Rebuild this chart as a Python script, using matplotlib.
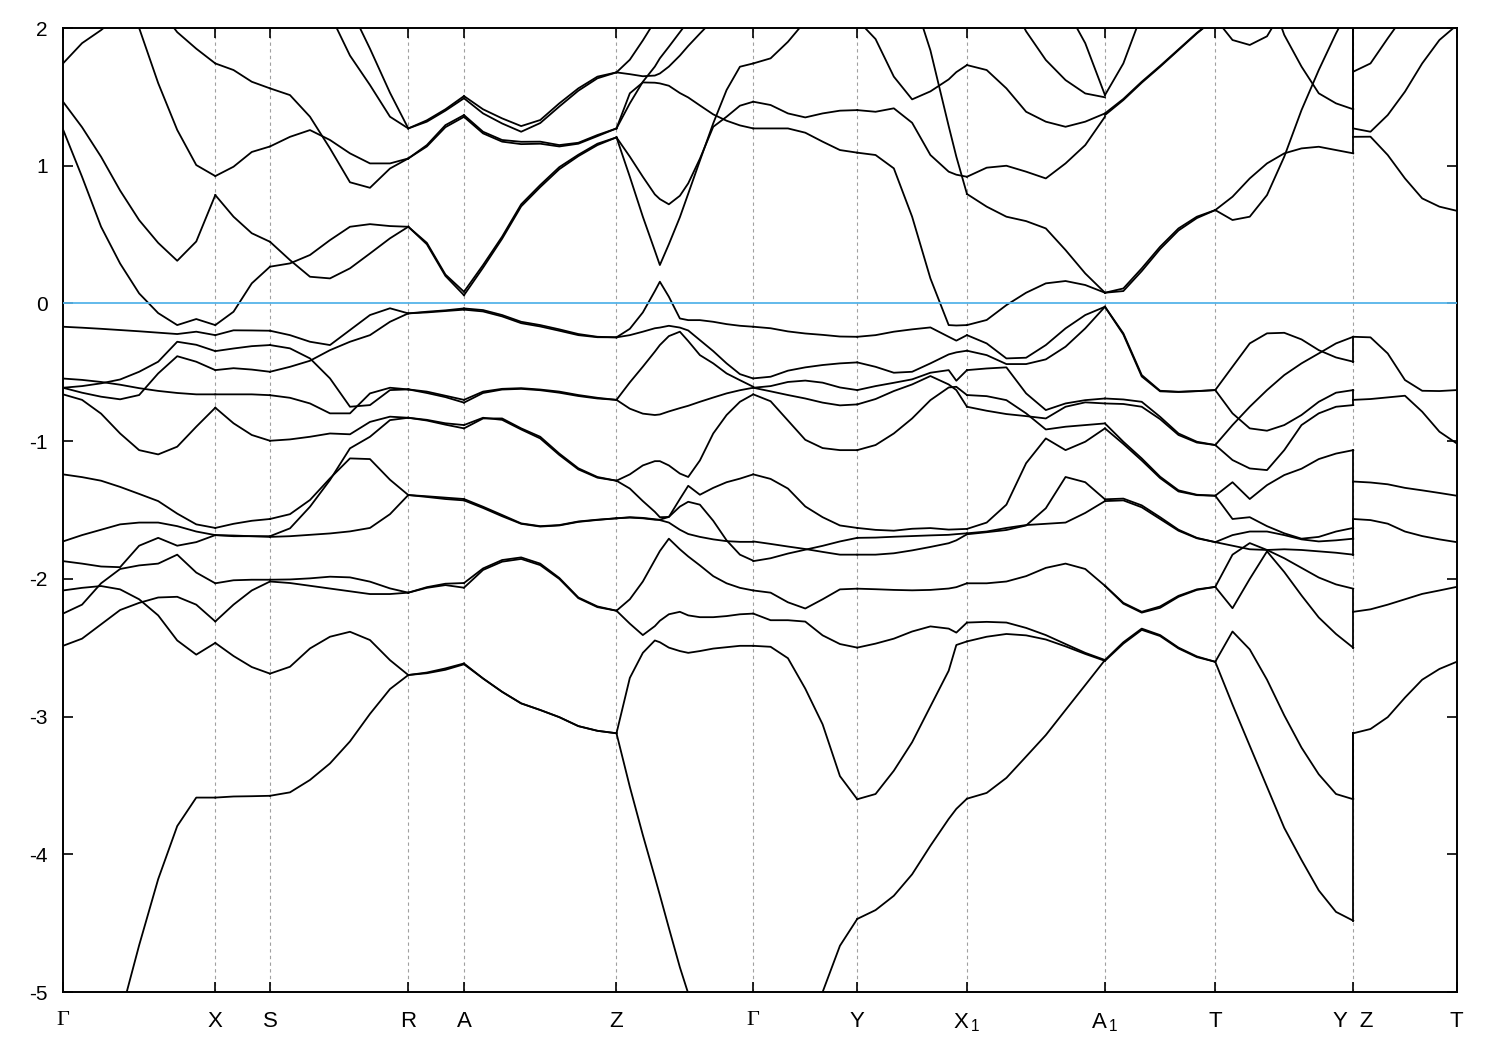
import numpy as np
import matplotlib
matplotlib.use("Agg")
import matplotlib.pyplot as plt

plt.rcParams["font.family"] = ["Liberation Sans", "DejaVu Sans"]
plt.rcParams["axes.unicode_minus"] = False
plt.rcParams["mathtext.fontset"] = "custom"
plt.rcParams["mathtext.rm"] = "Liberation Sans"
plt.rcParams["mathtext.it"] = "Liberation Sans"

# high symmetry points along the k path
kpoint_labels = ["Γ", "X", "S", "R", "A", "Z", "Γ", "Y",
                 r"$\mathrm{X}_{\,\mathrm{1}}$", r"$\mathrm{A}_{\,\mathrm{1}}$",
                 "T", "Y  Z", "T"]
kpoint_pos = [0.0, 1.523, 2.07, 3.453, 4.01, 5.535, 6.903, 7.943,
              9.04, 10.42, 11.523, 12.903, 13.937]

##################################################
# energies (eV) read along each segment, one list per visible line

frac_GX = np.linspace(0, 1, 9)
bands_GX = [
    [1.743, 1.89, 1.985, 2.1, 2.2, 2.15, 1.97, 1.85, 1.743],
    [3.0, 2.8, 2.6, 2.4, 2.0, 1.60, 1.26, 1.005, 0.925],
    [1.465, 1.28, 1.065, 0.82, 0.605, 0.44, 0.31, 0.45, 0.787],
    [1.264, 0.92, 0.557, 0.29, 0.073, -0.07, -0.157, -0.113, -0.157],
    [-0.169, -0.176, -0.184, -0.193, -0.202, -0.212, -0.222, -0.205, -0.23],
    [-0.612, -0.60, -0.58, -0.552, -0.496, -0.423, -0.278, -0.30, -0.346],
    [-0.545, -0.555, -0.57, -0.59, -0.615, -0.635, -0.65, -0.66, -0.66],
    [-0.612, -0.648, -0.677, -0.696, -0.665, -0.508, -0.383, -0.423, -0.484],
    [-0.66, -0.70, -0.80, -0.944, -1.065, -1.096, -1.04, -0.895, -0.757],
    [-1.241, -1.261, -1.287, -1.332, -1.383, -1.435, -1.526, -1.604, -1.63],
    [-1.728, -1.682, -1.643, -1.604, -1.591, -1.591, -1.617, -1.656, -1.682],
    [-1.871, -1.889, -1.91, -1.915, -1.759, -1.702, -1.759, -1.733, -1.682],
    [-2.252, -2.187, -2.032, -1.928, -1.902, -1.889, -1.824, -1.954, -2.032],
    [-2.486, -2.434, -2.33, -2.226, -2.174, -2.135, -2.13, -2.187, -2.309],
    [-2.084, -2.065, -2.052, -2.076, -2.148, -2.265, -2.447, -2.55, -2.465],
    [-6.7, -6.2, -5.7, -5.18, -4.66, -4.18, -3.795, -3.588, -3.588],
]

frac_XS = np.linspace(0, 1, 4)
bands_XS = [
    [1.743, 1.695, 1.61, 1.562],
    [0.925, 0.993, 1.10, 1.14],
    [0.787, 0.63, 0.51, 0.448],
    [-0.157, -0.06, 0.146, 0.267],
    [-0.23, -0.195, -0.196, -0.198],
    [-0.346, -0.327, -0.31, -0.302],
    [-0.484, -0.47, -0.48, -0.496],
    [-0.66, -0.66, -0.66, -0.666],
    [-0.757, -0.87, -0.955, -0.997],
    [-1.63, -1.60, -1.578, -1.565],
    [-1.682, -1.69, -1.69, -1.69],
    [-1.682, -1.685, -1.69, -1.695],
    [-2.032, -2.01, -2.006, -2.006],
    [-2.309, -2.187, -2.084, -2.019],
    [-2.465, -2.56, -2.64, -2.688],
    [-3.588, -3.58, -3.578, -3.575],
]

frac_SR = [0, 0.1446, 0.2892, 0.4338, 0.5784, 0.723, 0.8677, 1]
bands_SR = [
    [1.562, 1.513, 1.356, 1.126, 0.88, 0.84, 0.98, 1.053],
    [1.14, 1.21, 1.259, 1.187, 1.09, 1.017, 1.017, 1.053],
    [3.0, 2.7, 2.4, 2.1, 1.80, 1.586, 1.356, 1.271],
    [3.3, 3.0, 2.7, 2.45, 2.15, 1.85, 1.53, 1.271],
    [0.448, 0.315, 0.194, 0.182, 0.255, 0.363, 0.473, 0.557],
    [0.267, 0.291, 0.352, 0.46, 0.557, 0.576, 0.562, 0.557],
    [-0.198, -0.23, -0.278, -0.302, -0.193, -0.084, -0.035, -0.072],
    [-0.496, -0.46, -0.416, -0.339, -0.278, -0.23, -0.133, -0.072],
    [-0.302, -0.326, -0.399, -0.544, -0.75, -0.738, -0.629, -0.624],
    [-0.666, -0.685, -0.726, -0.798, -0.798, -0.653, -0.612, -0.624],
    [-0.997, -0.987, -0.968, -0.944, -0.95, -0.86, -0.822, -0.83],
    [-1.69, -1.633, -1.476, -1.282, -1.052, -0.968, -0.847, -0.83],
    [-1.565, -1.53, -1.427, -1.27, -1.125, -1.13, -1.28, -1.391],
    [-1.695, -1.69, -1.68, -1.67, -1.655, -1.63, -1.53, -1.391],
    [-2.006, -2.004, -1.996, -1.984, -1.989, -2.02, -2.069, -2.1],
    [-2.019, -2.03, -2.05, -2.07, -2.09, -2.11, -2.11, -2.1],
    [-2.688, -2.638, -2.505, -2.42, -2.384, -2.444, -2.59, -2.698],
    [-3.575, -3.55, -3.46, -3.34, -3.18, -2.98, -2.80, -2.698],
]

frac_RA = np.linspace(0, 1, 4)
bands_RA = [
    [1.271, 1.33, 1.41, 1.506],
    [1.271, 1.32, 1.40, 1.49],
    [1.053, 1.15, 1.295, 1.368],
    [1.053, 1.14, 1.28, 1.355],
    [0.557, 0.44, 0.21, 0.085],
    [0.557, 0.43, 0.20, 0.06],
    [-0.072, -0.06, -0.05, -0.036],
    [-0.072, -0.065, -0.055, -0.045],
    [-0.624, -0.64, -0.67, -0.70],
    [-0.624, -0.65, -0.68, -0.72],
    [-0.83, -0.85, -0.88, -0.907],
    [-0.83, -0.845, -0.87, -0.883],
    [-1.391, -1.40, -1.41, -1.42],
    [-1.391, -1.405, -1.42, -1.43],
    [-2.1, -2.06, -2.035, -2.03],
    [-2.1, -2.065, -2.045, -2.064],
    [-2.698, -2.68, -2.65, -2.614],
    [-2.698, -2.685, -2.66, -2.62],
]

frac_AZ = np.linspace(0, 1, 9)
bands_AZ = [
    [1.506, 1.41, 1.344, 1.288, 1.332, 1.453, 1.562, 1.647, 1.678],
    [1.49, 1.38, 1.307, 1.247, 1.31, 1.43, 1.545, 1.635, 1.678],
    [1.368, 1.247, 1.187, 1.174, 1.175, 1.15, 1.167, 1.223, 1.271],
    [1.355, 1.235, 1.175, 1.157, 1.16, 1.14, 1.16, 1.215, 1.271],
    [0.085, 0.279, 0.485, 0.72, 0.86, 0.99, 1.08, 1.16, 1.206],
    [0.06, 0.26, 0.47, 0.705, 0.845, 0.975, 1.07, 1.15, 1.206],
    [-0.036, -0.048, -0.084, -0.133, -0.157, -0.188, -0.222, -0.242, -0.246],
    [-0.045, -0.058, -0.094, -0.143, -0.167, -0.198, -0.23, -0.245, -0.246],
    [-0.70, -0.64, -0.62, -0.615, -0.625, -0.64, -0.665, -0.685, -0.70],
    [-0.72, -0.65, -0.625, -0.62, -0.63, -0.648, -0.672, -0.69, -0.70],
    [-0.907, -0.835, -0.835, -0.907, -0.968, -1.09, -1.197, -1.26, -1.287],
    [-0.883, -0.83, -0.845, -0.915, -0.98, -1.1, -1.205, -1.265, -1.287],
    [-1.42, -1.476, -1.536, -1.597, -1.617, -1.609, -1.583, -1.57, -1.56],
    [-1.43, -1.485, -1.545, -1.60, -1.62, -1.612, -1.586, -1.572, -1.56],
    [-2.03, -1.924, -1.863, -1.844, -1.889, -1.993, -2.135, -2.2, -2.231],
    [-2.064, -1.935, -1.875, -1.855, -1.9, -2.0, -2.14, -2.205, -2.231],
    [-2.614, -2.723, -2.82, -2.904, -2.952, -3.004, -3.069, -3.103, -3.121],
    [-2.62, -2.723, -2.82, -2.904, -2.952, -3.004, -3.069, -3.103, -3.121],
]

frac_ZG = [0, 0.0976, 0.1927, 0.2805, 0.3171, 0.3829, 0.4634, 0.5244,
           0.6098, 0.7073, 0.8049, 0.9024, 1]
bands_ZG = [
    [1.678, 1.77, 1.91, 2.05, 2.1, 2.2, 2.3, 2.4, 2.5, 2.6, 2.7, 2.8, 2.9],
    [1.678, 1.665, 1.65, 1.655, 1.67, 1.72, 1.80, 1.87, 1.96, 2.06, 2.2, 2.35, 2.5],
    [1.271, 1.526, 1.605, 1.603, 1.598, 1.581, 1.528, 1.496, 1.438, 1.373, 1.327, 1.293, 1.271],
    [1.271, 1.453, 1.61, 1.72, 1.78, 1.864, 1.97, 2.05, 2.15, 2.3, 2.45, 2.6, 2.75],
    [1.206, 0.92, 0.63, 0.383, 0.279, 0.43, 0.626, 0.797, 1.037, 1.308, 1.55, 1.719, 1.743],
    [1.206, 1.066, 0.92, 0.792, 0.758, 0.72, 0.782, 0.872, 1.051, 1.283, 1.356, 1.436, 1.465],
    [-0.246, -0.184, -0.065, 0.09, 0.158, 0.049, -0.109, -0.121, -0.121, -0.133, -0.15, -0.162, -0.169],
    [-0.246, -0.23, -0.205, -0.18, -0.175, -0.162, -0.175, -0.196, -0.266, -0.346, -0.435, -0.513, -0.545],
    [-0.70, -0.573, -0.459, -0.35, -0.302, -0.237, -0.205, -0.273, -0.375, -0.435, -0.508, -0.557, -0.605],
    [-0.70, -0.764, -0.80, -0.81, -0.806, -0.784, -0.76, -0.743, -0.714, -0.683, -0.653, -0.63, -0.612],
    [-1.287, -1.241, -1.176, -1.145, -1.145, -1.176, -1.235, -1.26, -1.14, -0.944, -0.81, -0.714, -0.66],
    [-1.287, -1.344, -1.435, -1.513, -1.552, -1.55, -1.42, -1.324, -1.389, -1.339, -1.298, -1.272, -1.241],
    [-1.56, -1.552, -1.557, -1.567, -1.573, -1.591, -1.643, -1.674, -1.695, -1.713, -1.726, -1.731, -1.731],
    [-1.56, -1.555, -1.56, -1.57, -1.57, -1.55, -1.475, -1.44, -1.461, -1.578, -1.72, -1.824, -1.868],
    [-2.231, -2.148, -2.019, -1.863, -1.798, -1.708, -1.785, -1.837, -1.902, -1.98, -2.032, -2.065, -2.084],
    [-2.231, -2.325, -2.408, -2.343, -2.304, -2.257, -2.239, -2.265, -2.278, -2.278, -2.27, -2.257, -2.252],
    [-3.121, -2.719, -2.537, -2.447, -2.46, -2.499, -2.524, -2.537, -2.524, -2.506, -2.496, -2.486, -2.486],
    [-3.121, -3.51, -3.86, -4.166, -4.296, -4.534, -4.82, -5.01, -5.3, -5.6, -5.9, -6.2, -6.5],
]

frac_GY = np.linspace(0, 1, 7)
bands_GY = [
    [1.743, 1.78, 1.9, 2.05, 2.2, 2.35, 2.5],
    [1.465, 1.441, 1.38, 1.351, 1.38, 1.4, 1.404],
    [1.271, 1.271, 1.271, 1.24, 1.175, 1.114, 1.095],
    [-0.169, -0.18, -0.203, -0.218, -0.228, -0.24, -0.242],
    [-0.544, -0.532, -0.488, -0.464, -0.447, -0.435, -0.428],
    [-0.612, -0.6, -0.57, -0.56, -0.575, -0.61, -0.629],
    [-0.612, -0.638, -0.665, -0.69, -0.72, -0.74, -0.733],
    [-0.66, -0.71, -0.85, -0.99, -1.05, -1.065, -1.065],
    [-1.241, -1.274, -1.344, -1.474, -1.552, -1.612, -1.63],
    [-1.728, -1.746, -1.765, -1.783, -1.804, -1.824, -1.824],
    [-1.871, -1.85, -1.816, -1.788, -1.76, -1.728, -1.702],
    [-2.084, -2.1, -2.17, -2.215, -2.148, -2.076, -2.071],
    [-2.252, -2.3, -2.3, -2.31, -2.41, -2.473, -2.499],
    [-2.486, -2.493, -2.576, -2.797, -3.056, -3.432, -3.6],
    [-6.5, -6.2, -5.8, -5.4, -5.0, -4.664, -4.469],
]

frac_YX = [0, 0.1667, 0.3333, 0.5, 0.6667, 0.8333, 0.903, 1]
bands_YX = [
    [2.06, 1.92, 1.647, 1.482, 1.54, 1.627, 1.68, 1.731],
    [3.0, 2.8, 2.6, 2.25, 1.838, 1.288, 1.066, 0.795],
    [1.404, 1.392, 1.417, 1.312, 1.078, 0.957, 0.935, 0.92],
    [1.095, 1.078, 0.981, 0.63, 0.182, -0.157, -0.16, -0.157],
    [-0.242, -0.23, -0.205, -0.188, -0.174, -0.242, -0.27, -0.23],
    [-0.428, -0.46, -0.503, -0.496, -0.435, -0.37, -0.355, -0.343],
    [-0.629, -0.6, -0.576, -0.551, -0.503, -0.484, -0.561, -0.484],
    [-0.733, -0.694, -0.636, -0.588, -0.527, -0.588, -0.629, -0.75],
    [-1.065, -1.028, -0.944, -0.835, -0.702, -0.61, -0.605, -0.665],
    [-1.63, -1.644, -1.65, -1.636, -1.631, -1.642, -1.64, -1.637],
    [-1.824, -1.824, -1.814, -1.793, -1.768, -1.741, -1.72, -1.676],
    [-1.702, -1.70, -1.694, -1.689, -1.684, -1.68, -1.675, -1.669],
    [-2.071, -2.075, -2.08, -2.083, -2.08, -2.07, -2.06, -2.032],
    [-2.499, -2.47, -2.434, -2.382, -2.345, -2.361, -2.39, -2.317],
    [-3.6, -3.562, -3.393, -3.186, -2.926, -2.667, -2.48, -2.454],
    [-4.469, -4.405, -4.301, -4.145, -3.938, -3.743, -3.67, -3.596],
]

frac_XA = np.linspace(0, 1, 8)
bands_XA = [
    [1.731, 1.695, 1.562, 1.392, 1.32, 1.283, 1.32, 1.38],
    [2.6, 2.45, 2.25, 1.976, 1.768, 1.622, 1.525, 1.497],
    [3.2, 3.0, 2.8, 2.6, 2.4, 2.15, 1.89, 1.513],
    [0.92, 0.986, 1.0, 0.957, 0.908, 1.017, 1.15, 1.356],
    [0.795, 0.703, 0.63, 0.598, 0.545, 0.388, 0.218, 0.078],
    [-0.157, -0.12, -0.012, 0.078, 0.146, 0.163, 0.134, 0.078],
    [-0.23, -0.29, -0.399, -0.394, -0.302, -0.181, -0.084, -0.024],
    [-0.343, -0.375, -0.44, -0.44, -0.406, -0.314, -0.181, -0.024],
    [-0.484, -0.472, -0.464, -0.653, -0.774, -0.726, -0.702, -0.69],
    [-0.75, -0.779, -0.803, -0.818, -0.835, -0.75, -0.718, -0.726],
    [-0.665, -0.673, -0.702, -0.798, -0.915, -0.895, -0.883, -0.871],
    [-1.637, -1.591, -1.461, -1.16, -0.98, -1.065, -1.004, -0.907],
    [-1.676, -1.661, -1.645, -1.612, -1.487, -1.26, -1.298, -1.422],
    [-1.669, -1.656, -1.63, -1.609, -1.6, -1.591, -1.521, -1.435],
    [-2.032, -2.032, -2.019, -1.98, -1.92, -1.889, -1.928, -2.05],
    [-2.317, -2.312, -2.317, -2.356, -2.408, -2.473, -2.537, -2.589],
    [-2.454, -2.42, -2.40, -2.41, -2.44, -2.49, -2.545, -2.595],
    [-3.596, -3.554, -3.445, -3.29, -3.134, -2.952, -2.771, -2.589],
]

frac_AT = np.linspace(0, 1, 7)
bands_AT = [
    [1.513, 1.743, 2.1, 2.4, 2.7, 3.0, 3.2],
    [1.368, 1.477, 1.603, 1.719, 1.84, 1.961, 2.07],
    [1.38, 1.485, 1.61, 1.725, 1.845, 1.965, 2.07],
    [0.078, 0.109, 0.255, 0.412, 0.545, 0.63, 0.678],
    [0.078, 0.09, 0.235, 0.395, 0.53, 0.62, 0.678],
    [-0.024, -0.217, -0.52, -0.634, -0.641, -0.636, -0.629],
    [-0.024, -0.225, -0.53, -0.638, -0.643, -0.637, -0.629],
    [-0.69, -0.697, -0.714, -0.823, -0.944, -1.004, -1.028],
    [-0.726, -0.73, -0.75, -0.84, -0.955, -1.01, -1.028],
    [-0.871, -1.004, -1.125, -1.258, -1.357, -1.389, -1.396],
    [-0.907, -1.02, -1.14, -1.268, -1.365, -1.392, -1.396],
    [-1.422, -1.417, -1.466, -1.552, -1.643, -1.702, -1.733],
    [-1.435, -1.43, -1.48, -1.565, -1.65, -1.705, -1.733],
    [-2.05, -2.174, -2.239, -2.2, -2.123, -2.076, -2.058],
    [-2.05, -2.18, -2.245, -2.21, -2.13, -2.08, -2.058],
    [-2.589, -2.46, -2.361, -2.408, -2.499, -2.563, -2.602],
    [-2.595, -2.47, -2.37, -2.415, -2.505, -2.568, -2.602],
]

frac_TY = np.linspace(0, 1, 9)
bands_TY = [
    [2.07, 1.913, 1.877, 1.94, 2.15, 2.4, 2.6, 2.8, 3.0],
    [3.0, 2.8, 2.6, 2.3, 1.95, 1.72, 1.526, 1.453, 1.41],
    [0.678, 0.606, 0.63, 0.787, 1.066, 1.404, 1.695, 1.961, 2.2],
    [0.678, 0.775, 0.908, 1.017, 1.09, 1.126, 1.138, 1.114, 1.09],
    [-0.629, -0.459, -0.29, -0.217, -0.213, -0.261, -0.339, -0.392, -0.423],
    [-1.028, -0.883, -0.75, -0.629, -0.52, -0.435, -0.363, -0.29, -0.242],
    [-0.629, -0.798, -0.907, -0.924, -0.883, -0.81, -0.714, -0.648, -0.629],
    [-1.028, -1.137, -1.198, -1.21, -1.065, -0.883, -0.798, -0.75, -0.738],
    [-1.396, -1.298, -1.42, -1.319, -1.246, -1.2, -1.13, -1.09, -1.065],
    [-1.396, -1.565, -1.552, -1.617, -1.669, -1.708, -1.695, -1.656, -1.63],
    [-1.733, -1.682, -1.656, -1.656, -1.682, -1.713, -1.728, -1.72, -1.708],
    [-1.733, -1.759, -1.785, -1.79, -1.785, -1.79, -1.80, -1.81, -1.824],
    [-2.058, -1.824, -1.74, -1.79, -1.85, -1.92, -1.99, -2.04, -2.071],
    [-2.058, -2.213, -2.0, -1.8, -1.95, -2.12, -2.28, -2.4, -2.5],
    [-2.602, -2.382, -2.512, -2.732, -2.991, -3.225, -3.419, -3.562, -3.6],
    [-2.602, -2.913, -3.212, -3.51, -3.808, -4.041, -4.262, -4.418, -4.482],
]

# Z-T lines are doubly degenerate
frac_ZT = np.linspace(0, 1, 7)
zt_degeneracy = 2
bands_ZT = [
    [1.683, 1.743, 1.925, 2.1, 2.25, 2.4, 2.55],
    [1.271, 1.247, 1.368, 1.538, 1.743, 1.913, 2.02],
    [1.21, 1.211, 1.078, 0.908, 0.763, 0.703, 0.673],
    [-0.242, -0.246, -0.363, -0.556, -0.634, -0.636, -0.629],
    [-0.70, -0.694, -0.682, -0.67, -0.786, -0.931, -1.016],
    [-1.293, -1.3, -1.313, -1.339, -1.357, -1.376, -1.396],
    [-1.565, -1.573, -1.599, -1.656, -1.689, -1.713, -1.733],
    [-2.239, -2.221, -2.187, -2.148, -2.109, -2.084, -2.058],
    [-3.121, -3.09, -3.004, -2.862, -2.732, -2.654, -2.602],
]

segments = [
    (0, 1, frac_GX, bands_GX),
    (1, 2, frac_XS, bands_XS),
    (2, 3, frac_SR, bands_SR),
    (3, 4, frac_RA, bands_RA),
    (4, 5, frac_AZ, bands_AZ),
    (5, 6, frac_ZG, bands_ZG),
    (6, 7, frac_GY, bands_GY),
    (7, 8, frac_YX, bands_YX),
    (8, 9, frac_XA, bands_XA),
    (9, 10, frac_AT, bands_AT),
    (10, 11, frac_TY, bands_TY),
    (11, 12, frac_ZT, bands_ZT),
]

##################################################

fig, ax = plt.subplots(figsize=(15, 10.5), dpi=100)
fig.subplots_adjust(left=0.042, right=0.9711, bottom=0.0552, top=0.9733)

for i0, i1, frac, bands in segments:

    k = kpoint_pos[i0] + np.asarray(frac) * (kpoint_pos[i1] - kpoint_pos[i0])

    for e in bands:
        ax.plot(k, e, color="black", lw=1.3, zorder=2)

# the path jumps at Y|Z: gnuplot joins band n at Y to band n at Z
ty_end = np.sort([b[-1] for b in bands_TY])
zt_start = np.sort(np.repeat([b[0] for b in bands_ZT], zt_degeneracy))
n = min(len(ty_end), len(zt_start))
k_jump = kpoint_pos[11]
for ea, eb in zip(ty_end[:n], zt_start[:n]):
    ax.plot([k_jump, k_jump], [ea, eb], color="black", lw=1.3, zorder=2)

for kp in kpoint_pos[1:-1]:
    ax.axvline(kp, color="#a0a0a0", lw=0.8, ls=(0, (3, 3)), zorder=1)

ax.axhline(0, color="#56b4e9", lw=1.3, zorder=3)

ax.set_xlim(kpoint_pos[0], kpoint_pos[-1])
ax.set_ylim(-5, 2)

ax.set_xticks(kpoint_pos)
ax.set_xticklabels(kpoint_labels)
ax.set_yticks(range(-5, 3))
ax.set_yticklabels([str(v) for v in range(-5, 3)])

ax.tick_params(axis="both", direction="in", length=7.5, width=1.2,
               top=True, right=True)
ax.tick_params(axis="x", pad=14, labelsize=16)
ax.tick_params(axis="y", pad=11, labelsize=15)

for lbl in ax.get_xticklabels():
    if lbl.get_text() == "Γ":
        lbl.set_fontfamily("Liberation Serif")

for sp in ax.spines.values():
    sp.set_linewidth(1.4)

fig.savefig("out.png", dpi=100)
plt.close()
